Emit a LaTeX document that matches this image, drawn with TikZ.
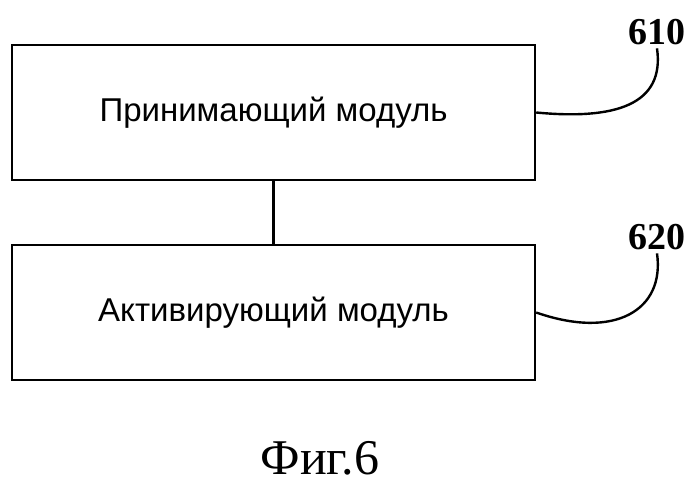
\documentclass[tikz,border=0pt]{standalone}
\usepackage{fontspec}
\setmainfont{Liberation Serif}
\setsansfont{Liberation Sans}
\usetikzlibrary{positioning}
\tikzset{
  modbox/.style={draw, line width=2.4pt, minimum width=523pt, minimum height=135pt,
    font=\fontsize{33}{33}\selectfont\sffamily},
  leader/.style={line width=2.4pt},
  reflabel/.style={font=\fontsize{38}{38}\selectfont\bfseries}
}
\begin{document}
\begin{tikzpicture}[x=1pt,y=-1pt]
  \useasboundingbox (0,0) rectangle (700,488);

  % modules
  \node[modbox] (recv) at (273.5,112.5) {Принимающий модуль};
  \node[modbox] (act) at (273.5,312.5) {Активирующий модуль};
  \draw[leader] (recv.south) -- (act.south |- act.north);

  % reference numerals
  \node[reflabel] (l610) at (657,32) {610};
  \node[reflabel] (l620) at (657,237) {620};
  \draw[leader] (recv.east) .. controls (615,120) and (665,105) .. (l610.south);
  \draw[leader] (act.east) .. controls (615,340) and (665,310) .. (l620.south);

  % caption
  \node[font=\fontsize{50}{50}\selectfont] (cap) at (320,458) {Фиг.6};
\end{tikzpicture}
\end{document}
